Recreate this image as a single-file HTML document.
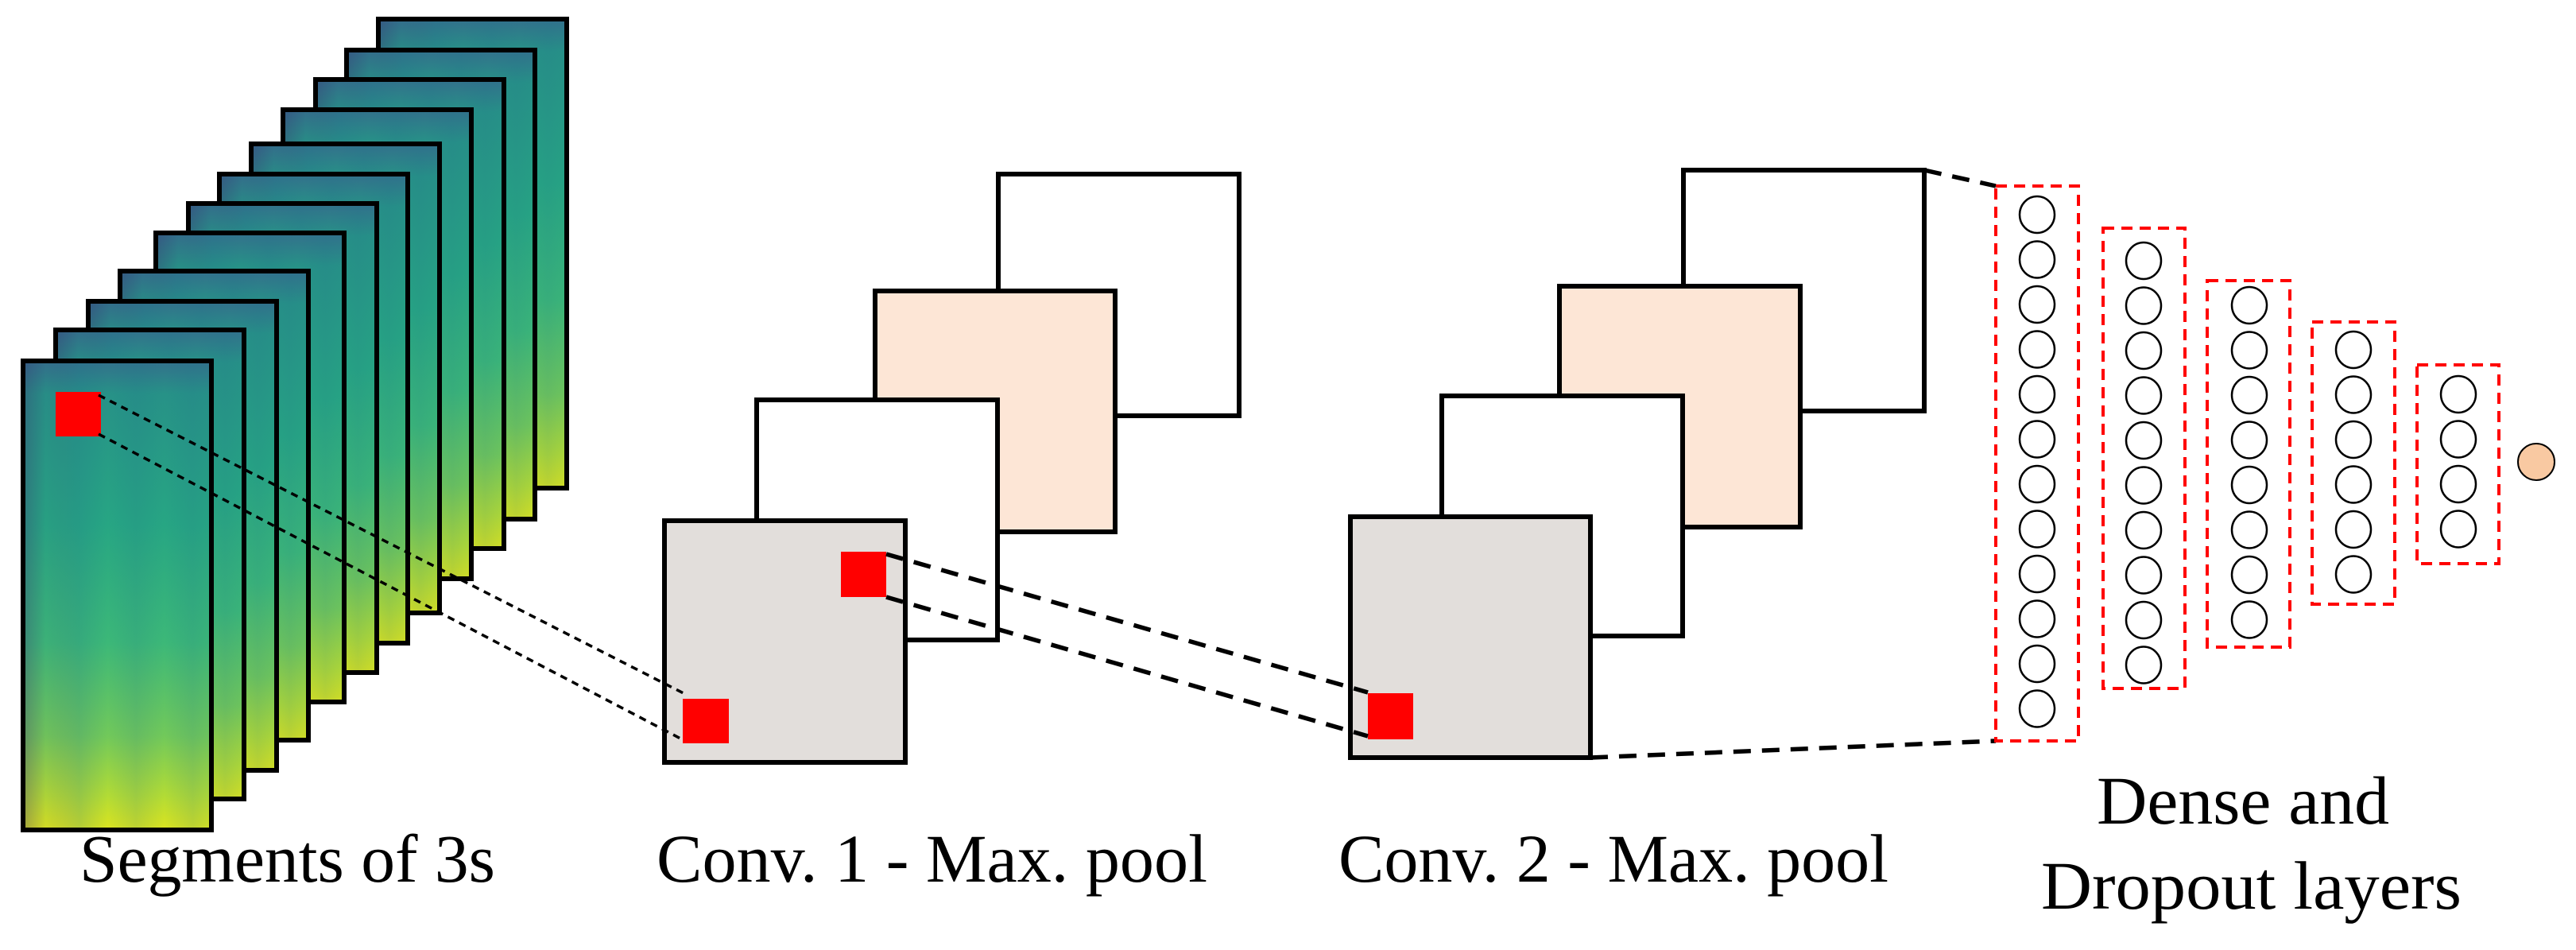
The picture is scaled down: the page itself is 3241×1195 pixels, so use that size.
<!DOCTYPE html>
<html><head><meta charset="utf-8"><style>html,body{margin:0;padding:0;background:#fff}svg{display:block}</style></head>
<body>
<svg width="3241" height="1195" viewBox="0 0 3241 1195" xmlns="http://www.w3.org/2000/svg">
<defs>
<linearGradient id="vg" x1="0" y1="0" x2="0" y2="1">
<stop offset="0" stop-color="#33708c"/>
<stop offset="0.07" stop-color="#279287"/>
<stop offset="0.35" stop-color="#27a683"/>
<stop offset="0.6" stop-color="#3cb878"/>
<stop offset="0.8" stop-color="#72c95a"/>
<stop offset="0.93" stop-color="#b4dc34"/>
<stop offset="1" stop-color="#dce41f"/>
</linearGradient>
<linearGradient id="hg" x1="0" y1="0" x2="1" y2="0">
<stop offset="0" stop-color="#3b2a70" stop-opacity="0.35"/>
<stop offset="0.12" stop-color="#3b2a70" stop-opacity="0.05"/>
<stop offset="0.3" stop-color="#1f6f8b" stop-opacity="0.2"/>
<stop offset="0.45" stop-color="#1f6f8b" stop-opacity="0"/>
<stop offset="0.6" stop-color="#1f6f8b" stop-opacity="0.15"/>
<stop offset="0.75" stop-color="#1f6f8b" stop-opacity="0"/>
<stop offset="0.9" stop-color="#1f6f8b" stop-opacity="0.15"/>
<stop offset="1" stop-color="#1f6f8b" stop-opacity="0.05"/>
</linearGradient>
<g id="spec">
<rect x="0" y="0" width="237" height="590" fill="url(#vg)"/>
<rect x="0" y="0" width="237" height="590" fill="url(#hg)"/>
<rect x="0" y="0" width="237" height="590" fill="none" stroke="#000" stroke-width="6"/>
</g>
</defs>

<use href="#spec" x="476" y="24"/>
<use href="#spec" x="436" y="63"/>
<use href="#spec" x="397" y="100"/>
<use href="#spec" x="356" y="138"/>
<use href="#spec" x="316" y="181"/>
<use href="#spec" x="276" y="219"/>
<use href="#spec" x="237" y="256"/>
<use href="#spec" x="196" y="293"/>
<use href="#spec" x="151" y="341"/>
<use href="#spec" x="111" y="379"/>
<use href="#spec" x="70" y="415"/>
<use href="#spec" x="29" y="454"/>
<rect x="70" y="493" width="57" height="56" fill="#ff0000"/>

<rect x="1256" y="219" width="303" height="304" fill="#fff" stroke="#000" stroke-width="6"/>
<rect x="1101" y="366" width="302" height="303" fill="#fde6d6" stroke="#000" stroke-width="6"/>
<rect x="952" y="503" width="303" height="302" fill="#fff" stroke="#000" stroke-width="6"/>
<rect x="836" y="655" width="303" height="304" fill="#e2dedb" stroke="#000" stroke-width="6"/>
<rect x="1058" y="694" width="57" height="57" fill="#ff0000"/>
<rect x="859" y="879" width="58" height="56" fill="#ff0000"/>

<g stroke="#000" stroke-width="3.5" stroke-dasharray="9 7" fill="none">
<line x1="124" y1="497" x2="860" y2="872"/>
<line x1="124" y1="546" x2="860" y2="931"/>
</g>

<rect x="2118" y="214" width="303" height="303" fill="#fff" stroke="#000" stroke-width="6"/>
<rect x="1962" y="360" width="303" height="303" fill="#fde6d6" stroke="#000" stroke-width="6"/>
<rect x="1814" y="498" width="303" height="302" fill="#fff" stroke="#000" stroke-width="6"/>
<rect x="1699" y="650" width="302" height="303" fill="#e2dedb" stroke="#000" stroke-width="6"/>
<rect x="1721" y="872" width="57" height="58" fill="#ff0000"/>

<g stroke="#000" stroke-width="5.5" stroke-dasharray="22 14" fill="none">
<line x1="1115" y1="697" x2="1721" y2="871"/>
<line x1="1115" y1="751" x2="1721" y2="926"/>
<line x1="2421" y1="214" x2="2511" y2="234"/>
<line x1="2001" y1="953" x2="2511" y2="932"/>
</g>

<g fill="none" stroke="#ff0000" stroke-width="4" stroke-dasharray="14 9">
<rect x="2511" y="234" width="104" height="698"/>
<rect x="2646" y="287" width="103" height="579"/>
<rect x="2777" y="353" width="104" height="461"/>
<rect x="2909" y="405" width="104" height="355"/>
<rect x="3041" y="459" width="103" height="250"/>
</g>
<g fill="#fff" stroke="#000" stroke-width="2.5">
<ellipse cx="2563" cy="270" rx="22" ry="23"/><ellipse cx="2563" cy="326.5" rx="22" ry="23"/><ellipse cx="2563" cy="383" rx="22" ry="23"/><ellipse cx="2563" cy="439.5" rx="22" ry="23"/><ellipse cx="2563" cy="496" rx="22" ry="23"/><ellipse cx="2563" cy="552.5" rx="22" ry="23"/><ellipse cx="2563" cy="609" rx="22" ry="23"/><ellipse cx="2563" cy="665.5" rx="22" ry="23"/><ellipse cx="2563" cy="722" rx="22" ry="23"/><ellipse cx="2563" cy="778.5" rx="22" ry="23"/><ellipse cx="2563" cy="835" rx="22" ry="23"/><ellipse cx="2563" cy="891.5" rx="22" ry="23"/>
<ellipse cx="2697" cy="328" rx="22" ry="23"/><ellipse cx="2697" cy="384.5" rx="22" ry="23"/><ellipse cx="2697" cy="441" rx="22" ry="23"/><ellipse cx="2697" cy="497.5" rx="22" ry="23"/><ellipse cx="2697" cy="554" rx="22" ry="23"/><ellipse cx="2697" cy="610.5" rx="22" ry="23"/><ellipse cx="2697" cy="667" rx="22" ry="23"/><ellipse cx="2697" cy="723.5" rx="22" ry="23"/><ellipse cx="2697" cy="780" rx="22" ry="23"/><ellipse cx="2697" cy="836.5" rx="22" ry="23"/>
<ellipse cx="2830" cy="384" rx="22" ry="23"/><ellipse cx="2830" cy="440.5" rx="22" ry="23"/><ellipse cx="2830" cy="497" rx="22" ry="23"/><ellipse cx="2830" cy="553.5" rx="22" ry="23"/><ellipse cx="2830" cy="610" rx="22" ry="23"/><ellipse cx="2830" cy="666.5" rx="22" ry="23"/><ellipse cx="2830" cy="723" rx="22" ry="23"/><ellipse cx="2830" cy="779.5" rx="22" ry="23"/>
<ellipse cx="2961" cy="440" rx="22" ry="23"/><ellipse cx="2961" cy="496.5" rx="22" ry="23"/><ellipse cx="2961" cy="553" rx="22" ry="23"/><ellipse cx="2961" cy="609.5" rx="22" ry="23"/><ellipse cx="2961" cy="666" rx="22" ry="23"/><ellipse cx="2961" cy="722.5" rx="22" ry="23"/>
<ellipse cx="3093" cy="496" rx="22" ry="23"/><ellipse cx="3093" cy="552.5" rx="22" ry="23"/><ellipse cx="3093" cy="609" rx="22" ry="23"/><ellipse cx="3093" cy="665.5" rx="22" ry="23"/>
</g>
<ellipse cx="3191" cy="581" rx="23" ry="23" fill="#f9c9a2" stroke="#000" stroke-width="2"/>

<g font-family="'Liberation Serif', serif" font-size="86" fill="#000">
<text x="100" y="1109" textLength="523" lengthAdjust="spacingAndGlyphs">Segments of 3s</text>
<text x="826" y="1109" textLength="693" lengthAdjust="spacingAndGlyphs">Conv. 1 - Max. pool</text>
<text x="1684" y="1109" textLength="692" lengthAdjust="spacingAndGlyphs">Conv. 2 - Max. pool</text>
<text x="2638" y="1036" textLength="368" lengthAdjust="spacingAndGlyphs">Dense and</text>
<text x="2568" y="1143" textLength="529" lengthAdjust="spacingAndGlyphs">Dropout layers</text>
</g>
</svg>
</body></html>
